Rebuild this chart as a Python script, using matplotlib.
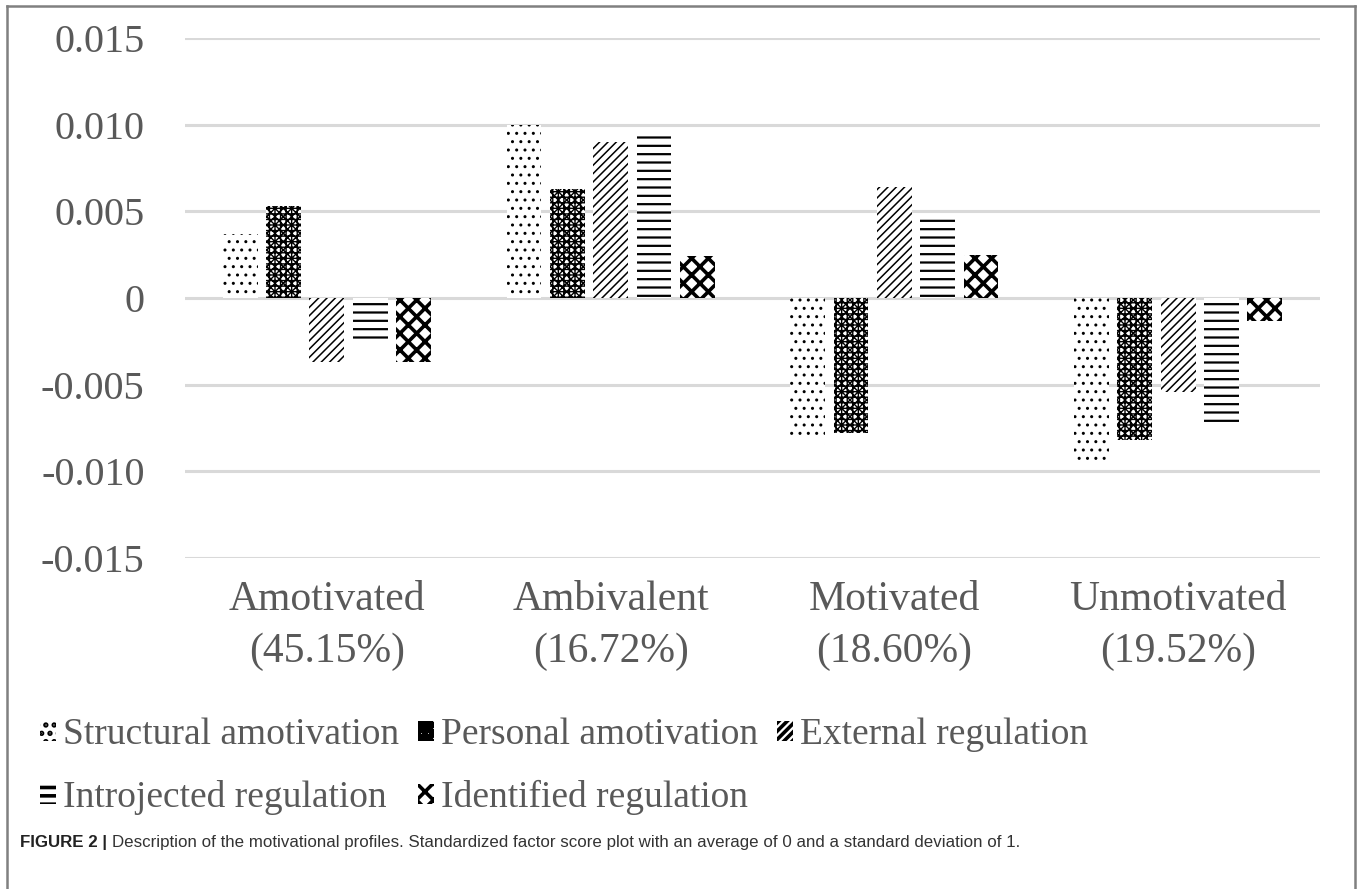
import matplotlib

matplotlib.use("Agg")
import matplotlib.pyplot as plt
import numpy as np
from matplotlib import font_manager
from matplotlib.lines import Line2D
from matplotlib.patches import Patch

# datos
PROFILES = ["Amotivated\n(45.15%)", "Ambivalent\n(16.72%)",
            "Motivated\n(18.60%)", "Unmotivated\n(19.52%)"]
SERIES = ["Structural amotivation", "Personal amotivation", "External regulation",
          "Introjected regulation", "Identified regulation"]
structural = [0.0037, 0.0100, -0.0079, -0.0094]
personal = [0.0053, 0.0063, -0.0078, -0.0082]
external = [-0.0037, 0.0090, 0.0064, -0.0054]
introjected = [-0.0025, 0.0095, 0.0048, -0.0075]
identified = [-0.0037, 0.0024, 0.0025, -0.0013]
VALUES = [structural, personal, external, introjected, identified]
YTICKS = [-0.015, -0.010, -0.005, 0, 0.005, 0.010, 0.015]
YTICK_LABELS = ["-0.015", "-0.010", "-0.005", "0", "0.005", "0.010", "0.015"]

HATCHES = ["..", "xxxx+++", "////", "--", "xx"]
HATCH_LW = [1.0, 1.0, 1.1, 1.6, 2.6]
TXT = "#595959"
SERIF = "Liberation Serif"

names = {f.name for f in font_manager.fontManager.ttflist}
CAPTION_FONT = "Liberation Sans Narrow" if "Liberation Sans Narrow" in names else "Liberation Sans"

W, H = 1357, 889
fig = plt.figure(figsize=(W / 100, H / 100), dpi=100)
ax = fig.add_axes([185 / W, 1 - 558 / H, (1320 - 185) / W, (558 - 38) / H])

x = np.arange(len(PROFILES))
step, width = 0.1527, 0.123
handles = []
for i, (name, vals) in enumerate(zip(SERIES, VALUES)):
    plt.rcParams["hatch.linewidth"] = HATCH_LW[i]
    bars = ax.bar(x + (i - 2) * step, vals, width, facecolor="white",
                  edgecolor="black", linewidth=0, hatch=HATCHES[i], zorder=3)
    for b in bars:
        if hasattr(b, "set_hatch_linewidth"):
            b.set_hatch_linewidth(HATCH_LW[i])
    h = Patch(facecolor="white", edgecolor="black", linewidth=0, hatch=HATCHES[i])
    if hasattr(h, "set_hatch_linewidth"):
        h.set_hatch_linewidth(min(HATCH_LW[i], 1.2))
    handles.append(h)

ax.set_xlim(-0.5, len(PROFILES) - 0.5)
ax.set_ylim(-0.015, 0.015)
ax.set_yticks(YTICKS)
ax.set_yticklabels(YTICK_LABELS, fontsize=29, color=TXT, family=SERIF)
ax.set_xticks(x)
ax.set_xticklabels(PROFILES, fontsize=30, color=TXT, family=SERIF, linespacing=1.45)
ax.tick_params(axis="y", length=0, pad=29)
ax.tick_params(axis="x", length=0, pad=16)
ax.grid(axis="y", color="#d9d9d9", linewidth=2.2, zorder=0)
for s in ax.spines.values():
    s.set_visible(False)

# leyenda en dos filas: se reordena porque matplotlib rellena por columnas
order = [0, 3, 1, 4, 2]
leg = fig.legend([handles[k] for k in order], [SERIES[k] for k in order], ncol=3,
                 frameon=False, prop={"family": SERIF, "size": 27},
                 handlelength=0.42, handleheight=0.42, handletextpad=0.2,
                 columnspacing=0.5, labelspacing=0.74, borderpad=0, borderaxespad=0,
                 loc="upper left", bbox_to_anchor=(40 / W, 1 - 718 / H))
for t in leg.get_texts():
    t.set_color(TXT)

# marco de la figura
for xs, ys in [([7, 1355], [6, 6]), ([7, 7], [6, H]), ([1355, 1355], [6, H])]:
    fig.add_artist(Line2D(np.array(xs) / W, 1 - np.array(ys) / H, color="#808080", linewidth=1.8))

# pie de figura
cap1 = fig.text(20 / W, 1 - 843 / H, "FIGURE 2 | ", fontsize=12.2, fontweight="bold",
                family=CAPTION_FONT, color="#222222", va="center")
fig.canvas.draw()
bb = cap1.get_window_extent()
fig.text(bb.x1 / W, 1 - 843 / H,
         "Description of the motivational profiles. Standardized factor score plot with an "
         "average of 0 and a standard deviation of 1.",
         fontsize=12.2, family=CAPTION_FONT, color="#333333", va="center")

fig.savefig("out.png", dpi=100)
